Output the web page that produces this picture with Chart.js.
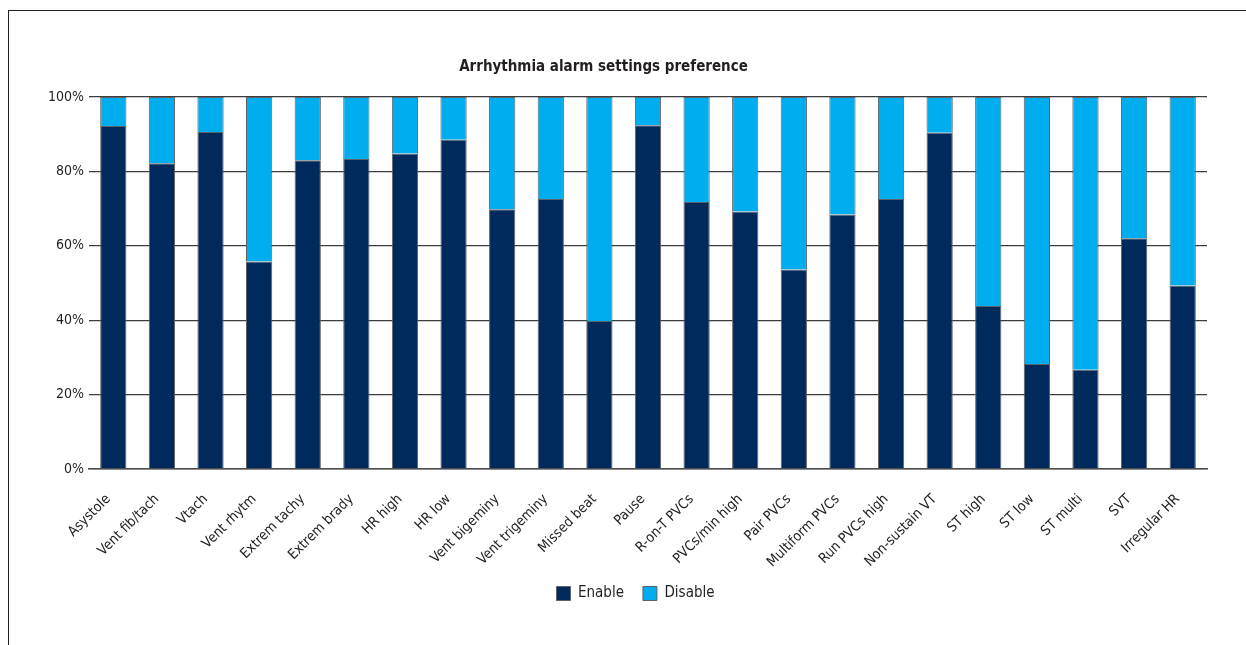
<!DOCTYPE html>
<html>
<head>
<meta charset="utf-8">
<title>Arrhythmia alarm settings preference</title>
<script src="https://cdn.jsdelivr.net/npm/chart.js@4.4.1/dist/chart.umd.min.js"></script>
<style>
  html, body { margin: 0; padding: 0; background: #ffffff; overflow: hidden; }
  #wrap { position: relative; width: 1246px; height: 645px; }
  #frame {
    position: absolute; left: 8px; top: 10px; width: 1260px; height: 700px;
    border-left: 1px solid #231f20; border-top: 1px solid #231f20; pointer-events: none;
  }
  canvas { position: absolute; left: 0; top: 0; }
</style>
</head>
<body>
<div id="wrap">
  <canvas id="chart" width="1246" height="645"></canvas>
  <div id="frame"></div>
</div>
<script>
// Alarm types surveyed
const categories = [
  'Asystole', 'Vent fib/tach', 'Vtach', 'Vent rhytm', 'Extrem tachy', 'Extrem brady',
  'HR high', 'HR low', 'Vent bigeminy', 'Vent trigeminy', 'Missed beat', 'Pause',
  'R-on-T PVCs', 'PVCs/min high', 'Pair PVCs', 'Multiform PVCs', 'Run PVCs high',
  'Non-sustain VT', 'ST high', 'ST low', 'ST multi', 'SVT', 'Irregular HR'
];

// Share of respondents (%) per setting
const enableShare = [
  92.2, 82.2, 90.6, 55.8, 83.0, 83.3, 84.8, 88.5, 69.8, 72.6, 39.8, 92.4,
  71.8, 69.2, 53.6, 68.4, 72.6, 90.4, 43.8, 28.2, 26.7, 62.0, 49.3
];
const disableShare = [
  7.8, 17.8, 9.4, 44.2, 17.0, 16.7, 15.2, 11.5, 30.2, 27.4, 60.2, 7.6,
  28.2, 30.8, 46.4, 31.6, 27.4, 9.6, 56.2, 71.8, 73.3, 38.0, 50.7
];

const yTickValues = [0, 20, 40, 60, 80, 100];

const FONT = "'Liberation Sans Narrow', 'DejaVu Sans Condensed', 'Arial Narrow', sans-serif";
const INK = '#231f20';

// Nudges the legend row a little right of the plot centre
const legendShift = {
  id: 'legendShift',
  afterLayout(chart) {
    if (chart.legend) {
      chart.legend.left += 32;
      chart.legend.right += 32;
    }
  }
};

new Chart(document.getElementById('chart'), {
  type: 'bar',
  plugins: [legendShift],
  data: {
    labels: categories,
    datasets: [
      {
        label: 'Enable',
        data: enableShare,
        backgroundColor: '#002a5c',
        borderColor: '#5f6264',
        borderWidth: 1,
        barPercentage: 0.54,
        categoryPercentage: 1.0
      },
      {
        label: 'Disable',
        data: disableShare,
        backgroundColor: '#00aeef',
        borderColor: '#5f6264',
        borderWidth: 1,
        barPercentage: 0.54,
        categoryPercentage: 1.0
      }
    ]
  },
  options: {
    responsive: false,
    animation: false,
    devicePixelRatio: 1,
    layout: { padding: { left: 0, right: 39, top: 0, bottom: 34 } },
    plugins: {
      title: {
        display: true,
        text: 'Arrhythmia alarm settings preference',
        color: INK,
        font: { family: FONT, size: 15, weight: 'bold' },
        padding: { top: 58, bottom: 21 }
      },
      legend: {
        position: 'bottom',
        labels: {
          color: INK,
          font: { family: FONT, size: 15 },
          boxWidth: 14,
          boxHeight: 14,
          padding: 19,
          generateLabels(chart) {
            return chart.data.datasets.map((ds, i) => ({
              text: ds.label,
              fillStyle: ds.backgroundColor,
              strokeStyle: '#5f6264',
              lineWidth: 1,
              fontColor: INK,
              hidden: false,
              datasetIndex: i
            }));
          }
        }
      },
      tooltip: { enabled: false }
    },
    scales: {
      x: {
        stacked: true,
        grid: { display: false, drawTicks: false },
        border: { display: true, color: '#4d4d4f', width: 1.5 },
        ticks: {
          color: INK,
          font: { family: FONT, size: 14 },
          minRotation: 45,
          maxRotation: 45,
          autoSkip: false,
          padding: 22,
          labelOffset: -5
        },
        afterFit(scale) { scale.height = 98; }
      },
      y: {
        stacked: true,
        min: 0,
        max: 100,
        afterBuildTicks(scale) { scale.ticks = yTickValues.map(v => ({ value: v })); },
        grid: { color: '#3c3c3e', lineWidth: 1.3, drawTicks: false },
        border: { display: false },
        ticks: {
          color: INK,
          font: { family: FONT, size: 14 },
          padding: 5,
          callback: v => v + '%'
        },
        afterFit(scale) { scale.width = 89; }
      }
    }
  }
});
</script>
</body>
</html>
